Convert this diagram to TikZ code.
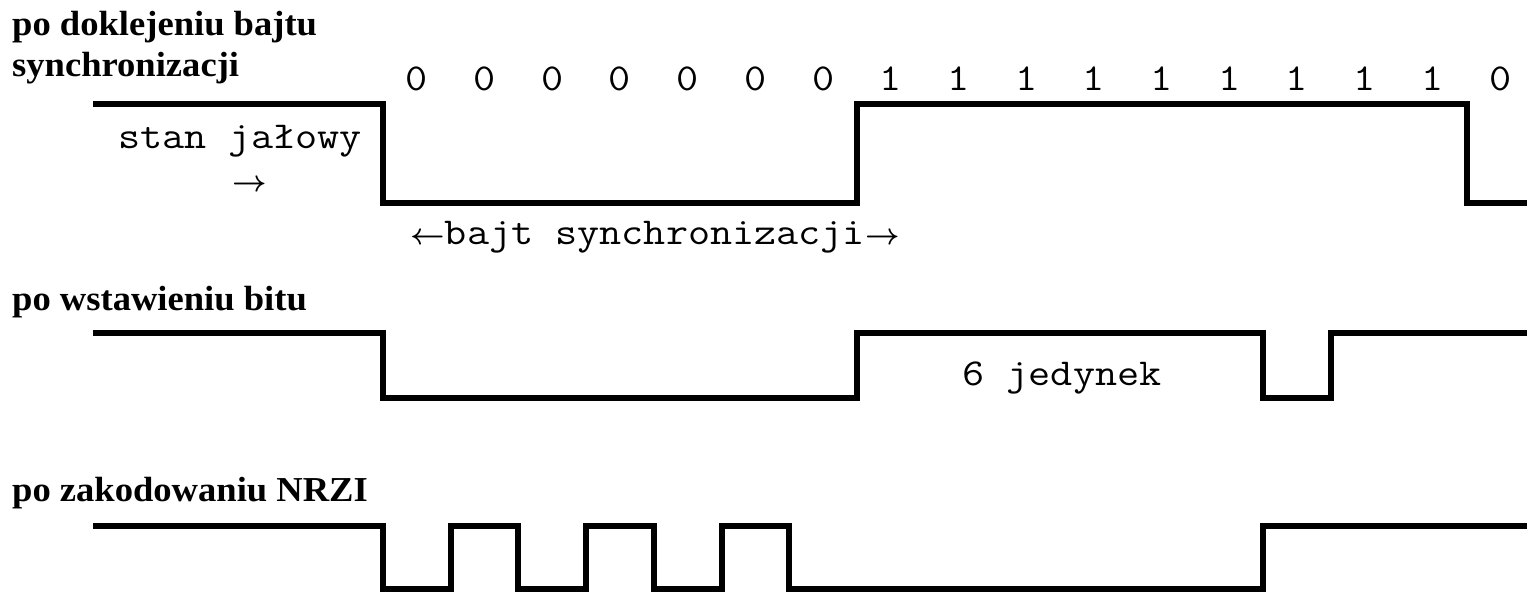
\documentclass[tikz,border=0pt]{standalone}
\usepackage{fontspec}
\usepackage{graphicx}
\setmainfont{Liberation Serif}

\tikzset{
  wave/.style={line width=6.8pt, line join=miter, line cap=butt},
  heading/.style={anchor=base west, inner sep=0pt, font=\fontsize{35}{40}\selectfont\bfseries},
  mono/.style={anchor=base, inner sep=0pt, font=\fontsize{38}{44}\selectfont\ttfamily},
  arrowtext/.style={anchor=base, inner sep=0pt},
}
% headings are set slightly wide, typewriter text at a Courier-like pitch
\newcommand{\wide}[1]{\scalebox{1.045}[1]{#1}}
\newcommand{\mt}[1]{\scalebox{1.13}[1]{#1}}
\newcommand{\bigleft}{\scalebox{3.0}{\fontsize{10}{12}\selectfont\boldmath$\leftarrow$}}
\newcommand{\bigright}{\scalebox{3.0}{\fontsize{10}{12}\selectfont\boldmath$\rightarrow$}}

\begin{document}
\begin{tikzpicture}[x=1pt,y=-1pt]
\useasboundingbox (0,0) rectangle (1527,592);

% row headings
\node[heading] (h1a) at (12,35) {\wide{po doklejeniu bajtu}};
\node[heading] (h1b) at (12,76) {\wide{synchronizacji}};
\node[heading] (h2)  at (12,310) {\wide{po wstawieniu bitu}};
\node[heading] (h3)  at (12,501) {\wide{po zakodowaniu NRZI}};

% bit values above the first waveform (bit period 67.7)
\foreach \v [count=\i from 0] in {0,0,0,0,0,0,0,1,1,1,1,1,1,1,1,1,0}
  \node[mono] (bit\i) at ({383+67.7*(\i+0.5)},90) {\mt{\v}};

% waveform after appending the sync byte
\draw[wave] (93,104) -- (383,104) -- (383,203) -- (857,203) -- (857,104)
  -- (1467,104) -- (1467,203) -- (1532,203);
\node[mono] (idle) at (240,148) {\mt{stan jałowy}};
\node[arrowtext] (idlearrow) at (250,191) {\bigright};
\node[mono] (sync) at (655,244) {\bigleft\mt{bajt synchronizacji}\bigright};

% waveform after bit stuffing
\draw[wave] (93,333) -- (383,333) -- (383,398) -- (857,398) -- (857,333)
  -- (1263,333) -- (1263,398) -- (1331,398) -- (1331,333) -- (1532,333);
\node[mono] (ones) at (1062,385) {\mt{6 jedynek}};

% waveform after NRZI encoding
\draw[wave] (93,526) -- (383,526) -- (383,589) -- (451,589) -- (451,526)
  -- (518,526) -- (518,589) -- (586,589) -- (586,526) -- (654,526)
  -- (654,589) -- (722,589) -- (722,526) -- (789,526) -- (789,589)
  -- (1263,589) -- (1263,526) -- (1532,526);
\end{tikzpicture}
\end{document}
